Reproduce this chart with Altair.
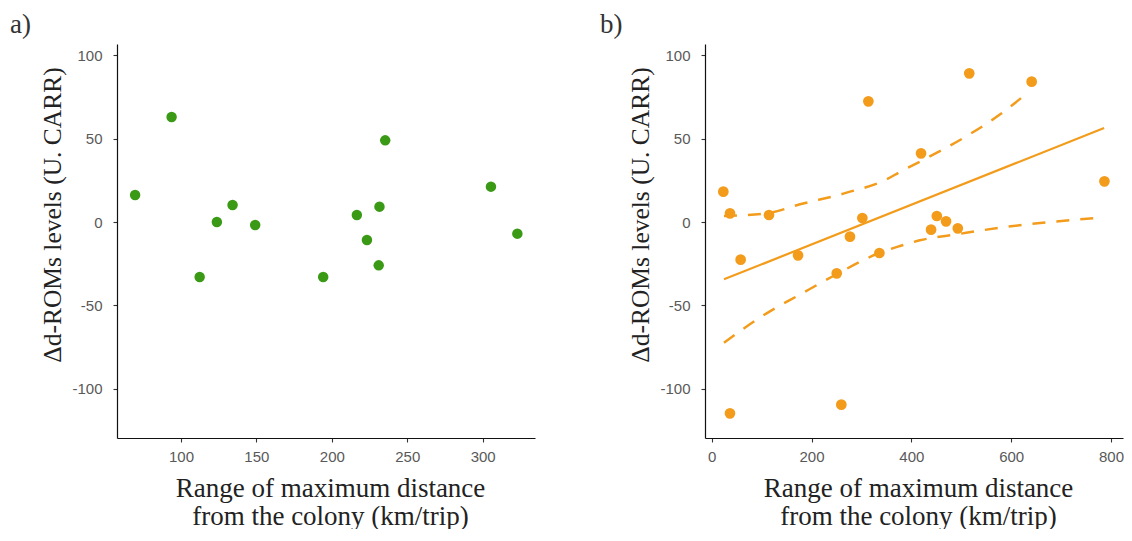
import altair as alt
import pandas as pd

# ---------------- data ----------------
# panel a (green)
a_x = [69.6, 93.8, 112.4, 123.8, 134.2, 149.2, 194.3, 216.6, 223.3, 231.6, 231.1, 235.4, 305.5, 323.0]
a_y = [16.2, 63.0, -33.0, 0.0, 10.2, -1.8, -33.0, 4.2, -10.8, 9.2, -26.0, 49.0, 21.2, -7.0]

# panel b (orange)
b_x = [23.3, 36.7, 36.6, 58.0, 114.8, 173.0, 250.5, 259.7, 277.0, 301.8,
       313.9, 336.0, 419.4, 439.5, 451.0, 469.5, 493.0, 516.0, 641.0, 786.8]
b_y = [18.2, 5.2, -114.8, -22.6, 4.2, -20.0, -30.8, -109.6, -8.8, 2.4,
       72.4, -18.6, 41.2, -4.6, 3.6, 0.4, -3.8, 89.2, 84.2, 24.4]

# fitted line and confidence band (panel b)
fit_x = [24.6, 786.2]
fit_y = [-34.4, 56.4]
ci_up_x = [24.6, 110.0, 177.0, 270.5, 350.7, 377.0, 419.6, 511.0, 578.0, 633.0]
ci_up_y = [3.6, 5.2, 10.6, 17.6, 25.6, 30.0, 36.6, 51.6, 64.6, 77.6]
ci_lo_x = [24.6, 110.0, 177.0, 243.7, 337.0, 377.3, 417.0, 491.0, 578.0, 678.0, 780.0]
ci_lo_y = [-72.4, -54.8, -43.5, -32.4, -18.4, -14.4, -11.0, -7.4, -3.4, 0.0, 2.6]

# axis ticks
a_ticks = [100, 150, 200, 250, 300]
b_ticks = [0, 200, 400, 600, 800]
y_ticks = [-100, -50, 0, 50, 100]

panel_labels = ["a)", "b)"]
y_title = "Δd-ROMs levels (U. CARR)"
x_title = ["Range of maximum distance", "from the colony (km/trip)"]

GREEN = "#3a9a16"
ORANGE = "#f39c1c"
SERIF = "Liberation Serif"
SANS = "Liberation Sans"

W, H = 418, 394

y_scale = alt.Scale(domain=[-129.6, 106.8], nice=False, zero=False)
xa_scale = alt.Scale(domain=[57.6, 334.7], nice=False, zero=False)
xb_scale = alt.Scale(domain=[-13.4, 824.0], nice=False, zero=False)


def x_axis(vals):
    return alt.Axis(values=vals, title=x_title, grid=False, labelPadding=7,
                    labelExpr="'' + datum.value",
                    titleBaseline="alphabetic", titleY=58, titleX=213,
                    titleAlign="center", titleLineHeight=28, titleFontSize=27)


y_axis = alt.Axis(values=y_ticks, title=y_title, grid=False, labelPadding=11,
                  labelExpr="'' + datum.value",
                  titleBaseline="alphabetic", titleX=-57, titleY=170.5,
                  titleAlign="center", titleFontSize=25.5)


def label_layer(txt, xoff):
    return alt.Chart(pd.DataFrame({"t": [txt]})).mark_text(
        align="left", baseline="alphabetic", font=SERIF, fontSize=27, color="#333333"
    ).encode(x=alt.value(xoff), y=alt.value(-11.3), text="t:N")


dfa = pd.DataFrame({"x": a_x, "y": a_y})
pts_a = alt.Chart(dfa).mark_circle(size=110, opacity=1, color=GREEN).encode(
    x=alt.X("x:Q", scale=xa_scale, axis=x_axis(a_ticks)),
    y=alt.Y("y:Q", scale=y_scale, axis=y_axis),
)
panel_a = alt.layer(pts_a, label_layer(panel_labels[0], -107)).properties(width=W, height=H)

dfb = pd.DataFrame({"x": b_x, "y": b_y})
pts_b = alt.Chart(dfb).mark_circle(size=115, opacity=1, color=ORANGE).encode(
    x=alt.X("x:Q", scale=xb_scale, axis=x_axis(b_ticks)),
    y=alt.Y("y:Q", scale=y_scale, axis=y_axis),
)
fit = alt.Chart(pd.DataFrame({"x": fit_x, "y": fit_y})).mark_line(
    color=ORANGE, strokeWidth=2.2).encode(x="x:Q", y="y:Q")
up = alt.Chart(pd.DataFrame({"x": ci_up_x, "y": ci_up_y})).mark_line(
    color=ORANGE, strokeWidth=2.5, strokeDash=[13, 11], interpolate="monotone").encode(x="x:Q", y="y:Q")
lo = alt.Chart(pd.DataFrame({"x": ci_lo_x, "y": ci_lo_y})).mark_line(
    color=ORANGE, strokeWidth=2.5, strokeDash=[13, 11], interpolate="monotone").encode(x="x:Q", y="y:Q")
panel_b = alt.layer(pts_b, fit, up, lo, label_layer(panel_labels[1], -105)).properties(width=W, height=H)

chart = alt.hconcat(panel_a, panel_b, spacing=65).properties(
    padding={"left": 2, "top": 2, "right": 0, "bottom": 0}
).configure_view(stroke=None).configure_axis(
    domainColor="#111111", domainWidth=1.2, tickColor="#333333", tickSize=4, tickWidth=1.1,
    labelColor="#595959", labelFont=SANS, labelFontSize=15,
    titleFont=SERIF, titleColor="#222222", titleFontWeight="normal",
)

chart.save("out.html", embed_options={"renderer": "svg", "actions": False})
